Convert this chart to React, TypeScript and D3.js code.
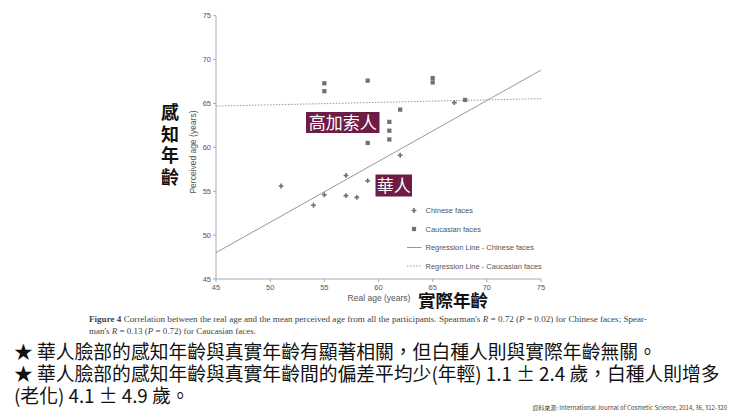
import * as d3 from "d3";

const xTicks = [45, 50, 55, 60, 65, 70, 75];
const yTicks = [45, 50, 55, 60, 65, 70, 75];

const chineseReal = [51, 54, 55, 57, 57, 58, 59, 62, 67];
const chinesePerceived = [55.6, 53.4, 54.6, 56.8, 54.5, 54.3, 56.2, 59.1, 65.1];

const caucasianReal = [55, 55, 59, 59, 61, 61, 61, 62, 65, 65, 68];
const caucasianPerceived = [67.3, 66.4, 67.6, 60.5, 62.9, 61.9, 60.9, 64.3, 67.9, 67.4, 65.4];

// regression line end points [real, perceived]
const chineseFit = [[45, 48.0], [75, 68.8]];
const caucasianFit = [[45, 64.7], [75, 65.55]];

const legendLabels = [
  "Chinese faces",
  "Caucasian faces",
  "Regression Line - Chinese faces",
  "Regression Line - Caucasian faces",
];

const sideLabel = "感知年齡";

const bullets = [
  "★ 華人臉部的感知年齡與真實年齡有顯著相關，但白種人則與實際年齡無關。",
  "★ 華人臉部的感知年齡與真實年齡間的偏差平均少(年輕) 1.1 ± 2.4 歲，白種人則增多",
  "(老化) 4.1 ± 4.9 歲。",
];

const W = 740;
const H = 416;
const maroon = "#6e1c45";
const grey = "#555";
const axisGrey = "#aaa";
const markGrey = "#707070";
const cjk = "'Noto Sans CJK TC', 'Noto Sans', sans-serif";
const sans = "'Liberation Sans', Arial, sans-serif";
const serif = "'Liberation Serif', 'Times New Roman', serif";

export default function App() {
  const x = d3.scaleLinear().domain([45, 75]).range([216, 541]);
  const y = d3.scaleLinear().domain([45, 75]).range([279, 15.7]);

  const line = d3
    .line<number[]>()
    .x((d) => x(d[0]))
    .y((d) => y(d[1]));

  const cross = d3.symbol().type(d3.symbolCross).size(13)()!;
  const square = d3.symbol().type(d3.symbolSquare).size(18)()!;

  const legendY = d3.scalePoint<number>().domain([0, 1, 2, 3]).range([210.5, 266]);

  return (
    <svg
      width={W}
      height={H}
      style={{ position: "absolute", left: 0, top: 0, background: "#fff" }}
    >
      {/* axes */}
      <line x1={x(45)} x2={x(45)} y1={y(45)} y2={y(75)} stroke={axisGrey} strokeWidth={1} />
      <line x1={x(45)} x2={x(75)} y1={y(45)} y2={y(45)} stroke={axisGrey} strokeWidth={1} />
      {yTicks.map((t) => (
        <g key={"y" + t}>
          <line x1={x(45) - 3} x2={x(45)} y1={y(t)} y2={y(t)} stroke={axisGrey} />
          <text
            x={x(45) - 5}
            y={y(t)}
            dy="0.35em"
            textAnchor="end"
            fontSize={7.5}
            fontFamily={sans}
            fill={grey}
          >
            {t}
          </text>
        </g>
      ))}
      {xTicks.map((t) => (
        <g key={"x" + t}>
          <line x1={x(t)} x2={x(t)} y1={y(45)} y2={y(45) + 3} stroke={axisGrey} />
          <text
            x={x(t)}
            y={y(45) + 8}
            dy="0.35em"
            textAnchor="middle"
            fontSize={7.5}
            fontFamily={sans}
            fill={grey}
          >
            {t}
          </text>
        </g>
      ))}

      {/* axis titles */}
      <text
        transform={`translate(193,152) rotate(-90)`}
        textAnchor="middle"
        dy="0.35em"
        fontSize={8.5}
        fontFamily={sans}
        fill={grey}
      >
        Perceived age (years)
      </text>
      <text x={379} y={298.5} dy="0.35em" textAnchor="middle" fontSize={8.5} fontFamily={sans} fill={grey}>
        Real age (years)
      </text>
      <text x={418} y={300.5} dy="0.35em" fontSize={17.5} fontWeight="bold" fontFamily={cjk} fill="#111">
        實際年齡
      </text>
      <text
        x={170}
        y={103}
        writingMode="vertical-rl"
        letterSpacing={3.7}
        fontSize={18}
        fontWeight="bold"
        fontFamily={cjk}
        fill="#111"
      >
        {sideLabel}
      </text>

      {/* regression lines */}
      <path d={line(chineseFit)!} fill="none" stroke="#999" strokeWidth={1} />
      <path d={line(caucasianFit)!} fill="none" stroke="#999" strokeWidth={1} strokeDasharray="1.5,1.5" />

      {/* points */}
      {caucasianReal.map((r, i) => (
        <path key={"c" + i} d={square} transform={`translate(${x(r)},${y(caucasianPerceived[i])})`} fill={markGrey} />
      ))}
      {chineseReal.map((r, i) => (
        <path key={"h" + i} d={cross} transform={`translate(${x(r)},${y(chinesePerceived[i])})`} fill={markGrey} />
      ))}

      {/* group labels */}
      <rect x={306} y={112} width={73.5} height={21} fill={maroon} />
      <text x={342.7} y={122.7} dy="0.36em" textAnchor="middle" fontSize={17} fontFamily={cjk} fill="#fff">
        高加索人
      </text>
      <rect x={375.5} y={174.5} width={36.5} height={22} fill={maroon} />
      <text x={393.7} y={185.5} dy="0.36em" textAnchor="middle" fontSize={17} fontFamily={cjk} fill="#fff">
        華人
      </text>

      {/* legend */}
      <g>
        <path d={cross} transform={`translate(414,${legendY(0)})`} fill={markGrey} />
        <path d={square} transform={`translate(414,${legendY(1)})`} fill={markGrey} />
        <line x1={407} x2={421.5} y1={legendY(2)} y2={legendY(2)} stroke="#999" />
        <line x1={407} x2={421.5} y1={legendY(3)} y2={legendY(3)} stroke="#999" strokeDasharray="1.5,1.5" />
        {legendLabels.map((l, i) => (
          <text key={l} x={425.5} y={legendY(i)} dy="0.35em" fontSize={7.5} fontFamily={sans} fill={grey}>
            {l}
          </text>
        ))}
      </g>

      {/* figure caption */}
      <text x={89} y={318.5} dy="0.35em" fontSize={8.8} fontFamily={serif} fill="#444" textLength={558} lengthAdjust="spacingAndGlyphs">
        <tspan fontWeight="bold">Figure 4</tspan>
        {"  Correlation between the real age and the mean perceived age from all the participants. Spearman's "}
        <tspan fontStyle="italic">R</tspan>
        {" = 0.72 ("}
        <tspan fontStyle="italic">P</tspan>
        {" = 0.02) for Chinese faces; Spear-"}
      </text>
      <text x={89} y={330.5} dy="0.35em" fontSize={8.8} fontFamily={serif} fill="#444" textLength={167} lengthAdjust="spacingAndGlyphs">
        {"man's "}
        <tspan fontStyle="italic">R</tspan>
        {" = 0.13 ("}
        <tspan fontStyle="italic">P</tspan>
        {" = 0.72) for Caucasian faces."}
      </text>

      {/* bullet notes */}
      {bullets.map((b, i) => (
        <text key={i} x={14} y={352 + i * 22} dy="0.35em" fontSize={18.8} fontFamily={cjk} fill="#111">
          {b}
        </text>
      ))}
      <text x={727} y={407.5} dy="0.35em" textAnchor="end" fontSize={6} fontFamily={cjk} fill="#444">
        資料來源: International Journal of Cosmetic Science, 2014, 36, 312-320
      </text>
    </svg>
  );
}
